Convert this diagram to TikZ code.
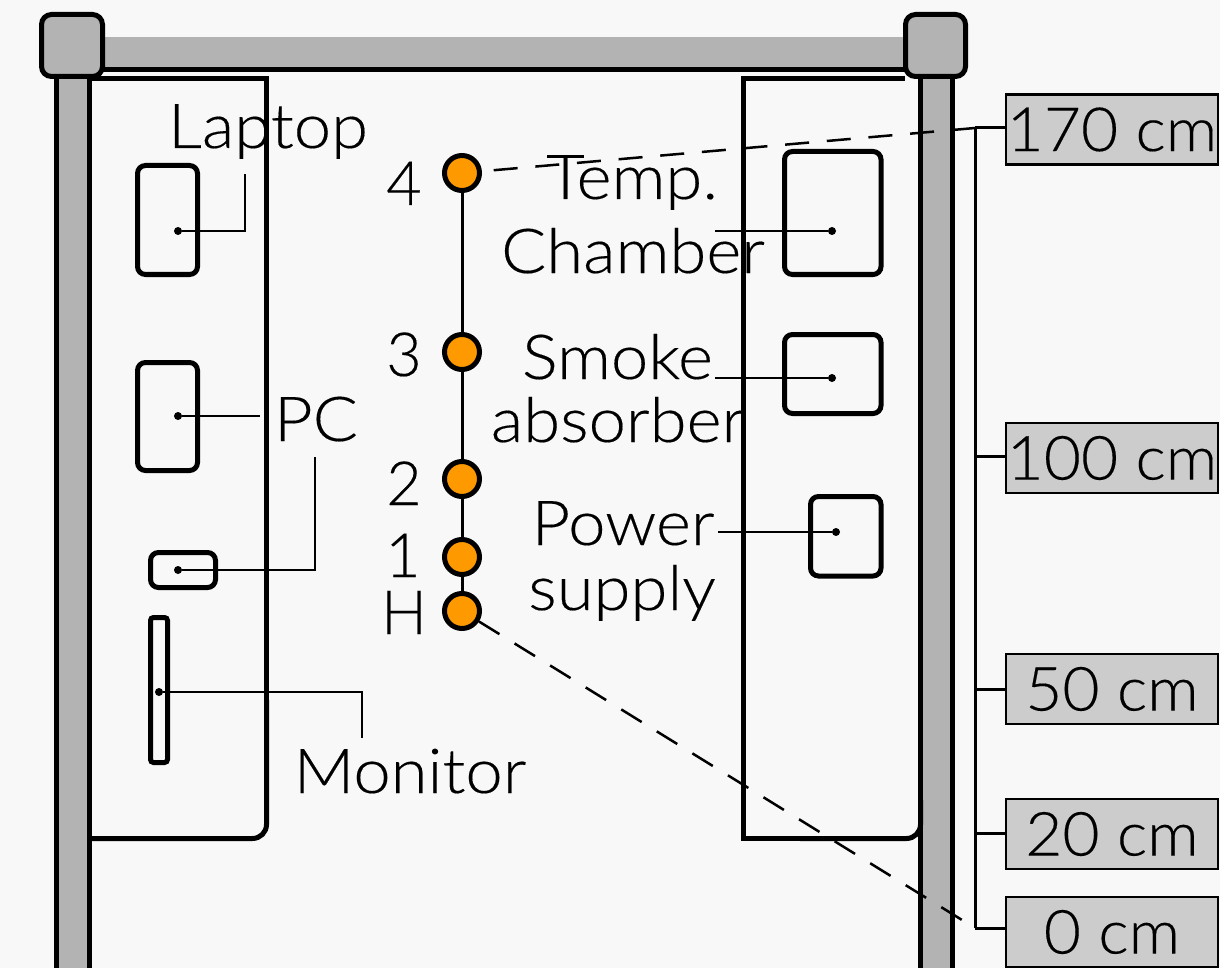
\documentclass[tikz,border=0pt]{standalone}
\usepackage{fontspec}
\setmainfont{Lato}[UprightFont=* Light,FakeBold=0.25]
\newfontfamily\widefont{Lato}[UprightFont=* Light,FakeStretch=1.05,FakeBold=0.25]
\newfontfamily\capfont{Lato}[UprightFont=* Light,FakeStretch=1.08,FakeBold=0.25]
\usetikzlibrary{calc}
\definecolor{pagegray}{HTML}{F8F8F8}
\definecolor{postgray}{HTML}{B3B3B3}
\definecolor{tagegray}{HTML}{CCCCCC}
\definecolor{sensororange}{HTML}{FF9900}
\newcommand{\bigtext}{\capfont\fontsize{62}{66}\selectfont}
\newcommand{\tagtext}{\widefont\fontsize{61}{66}\selectfont}
\newcommand{\digittext}{\fontsize{61}{66}\selectfont}
\tikzset{
	post/.style={fill=postgray,draw=none},
	postline/.style={line width=5pt},
	postcap/.style={fill=postgray,draw=black,line width=5pt,rounded corners=10pt},
	tableline/.style={line width=5pt},
	device/.style={draw=black,line width=5pt,rounded corners=8pt},
	devicedot/.style={circle,fill=black,inner sep=0pt,minimum size=8pt},
	lead/.style={line width=2.5pt},
	sensor/.style={circle,draw=black,fill=sensororange,line width=5pt,inner sep=0pt,minimum size=35pt},
	wire/.style={line width=3pt},
	sight/.style={line width=2.5pt,dash pattern=on 24pt off 17.8pt},
	heighttag/.style={draw=black,fill=tagegray,line width=2.5pt,minimum width=212pt,minimum height=70pt,inner sep=0pt,font=\tagtext},
	caption/.style={inner sep=0pt,anchor=base,font=\bigtext},
	digit/.style={inner sep=0pt,anchor=base,font=\digittext},
}

\begin{document}
\begin{tikzpicture}[x=1pt,y=-1pt]
			%%%%% START %%%%%
			\useasboundingbox[fill=pagegray] (0, 0) rectangle (1220, 968);
			
			% frame
			\fill[post] (104, 37) rectangle (905, 68);
			\draw[postline] (104, 69.5) -- (905, 69.5);
			
			\fill[post] (56, 79) rectangle (89, 968);
			\draw[postline] (56.5, 79) -- (56.5, 968);
			\draw[postline] (89, 79) -- (89, 968);
			
			\fill[post] (920, 79) rectangle (953, 968);
			\draw[postline] (920.5, 79) -- (920.5, 968);
			\draw[postline] (952.5, 79) -- (952.5, 968);
			
			\draw[postcap] (41.5, 14.5) rectangle (102.5, 76.5);
			\draw[postcap] (905.5, 14.5) rectangle (965.5, 76.5);
			
			% tables
			\draw[tableline] (90, 78.5) -- (266.5, 78.5) -- (266.5, 700);
			\draw[tableline,rounded corners=14pt] (266.5, 700) -- (266.5, 838.5) -- (90, 838.5);
			\draw[tableline] (905, 78.5) -- (743.5, 78.5) -- (743.5, 838.5) -- (800, 838.5);
			\draw[tableline,rounded corners=14pt] (800, 838.5) -- (920.5, 838.5) -- (920.5, 800);
			
			% devices, left
			\draw[device] (137.5, 165.5) rectangle (197.5, 274.5);
			\draw[device] (137.5, 362.5) rectangle (197.5, 470.5);
			\draw[device] (150.5, 552.5) rectangle (215.5, 587.5);
			\draw[device,rounded corners=3pt] (150.5, 617.5) rectangle (167.5, 762.5);
			
			% devices, right
			\draw[device] (784.5, 151.5) rectangle (881, 274.5);
			\draw[device] (784.5, 334.5) rectangle (881, 413.5);
			\draw[device] (810.5, 496.5) rectangle (881, 576);
			
			% device labels
			\node[caption] (laptop) at (268, 148) {Laptop};
			\node[caption] (pc) at (316, 441) {PC};
			\node[caption] (monitor) at (410, 793) {Monitor};
			\node[caption] (temp) at (632, 199) {Temp.};
			\node[caption] (chamber) at (633, 273) {Chamber};
			\node[caption] (smoke) at (617.5, 379) {Smoke};
			\node[caption] (absorber) at (618, 442) {absorber};
			\node[caption] (power) at (623, 545) {Power};
			\node[caption] (supply) at (622, 610) {supply};
			
			\node[devicedot] (laptopdot) at (178, 231) {};
			\node[devicedot] (pcdot) at (178, 416) {};
			\node[devicedot] (towerdot) at (178, 570) {};
			\node[devicedot] (monitordot) at (159, 692) {};
			\node[devicedot] (chamberdot) at (832, 231) {};
			\node[devicedot] (absorberdot) at (832, 378) {};
			\node[devicedot] (supplydot) at (836, 532) {};
			
			\coordinate (laptopend) at (245, 174);
			\coordinate (pcend) at (260, 416);
			\coordinate (towerend) at (315, 457);
			\coordinate (monitorend) at (362, 738);
			\coordinate (chamberend) at (715, 231);
			\coordinate (absorberend) at (715, 378);
			\coordinate (supplyend) at (718, 532);
			
			\draw[lead] (laptopdot) -| (laptopend);
			\draw[lead] (pcdot) -- (pcend);
			\draw[lead] (towerdot) -| (towerend);
			\draw[lead] (monitordot) -| (monitorend);
			\draw[lead] (chamberdot) -- (chamberend);
			\draw[lead] (absorberdot) -- (absorberend);
			\draw[lead] (supplydot) -- (supplyend);
			
			% sensors
			\node[sensor] (s4) at (462, 173) {};
			\node[sensor] (s3) at (462, 352) {};
			\node[sensor] (s2) at (462, 479) {};
			\node[sensor] (s1) at (462, 557) {};
			\node[sensor] (sH) at (462, 611) {};
			
			\draw[wire] (s4) -- (s3);
			\draw[wire] (s3) -- (s2);
			\draw[wire] (s2) -- (s1);
			\draw[wire] (s1) -- (sH);
			
			\node[digit] (l4) at (404, 205) {4};
			\node[digit] (l3) at (404, 376) {3};
			\node[digit] (l2) at (404, 505) {2};
			\node[digit] (l1) at (403, 577) {1};
			\node[digit] (lH) at (404, 634) {H};
			
			% height scale
			\node[heighttag] (t170) at (1112, 129.5) {170 cm};
			\node[heighttag] (t100) at (1112, 458) {100 cm};
			\node[heighttag] (t50) at (1112, 689) {50 cm};
			\node[heighttag] (t20) at (1112, 834) {20 cm};
			\node[heighttag] (t0) at (1112, 932) {0 cm};
			
			\coordinate (j170) at (975, 128);
			\coordinate (j100) at (975, 456);
			\coordinate (j50) at (975, 689);
			\coordinate (j20) at (975, 833);
			\coordinate (j0) at (975, 928);
			
			\draw[wire] (j170) -- (j0);
			\draw[wire] (j170) -- (j170 -| t170.west);
			\draw[wire] (j100) -- (j100 -| t100.west);
			\draw[wire] (j50) -- (j50 -| t50.west);
			\draw[wire] (j20) -- (j20 -| t20.west);
			\draw[wire] (j0) -- (j0 -| t0.west);
			
			\draw[sight,dash phase=30pt] (s4) -- (j170);
			\draw[sight] (sH) -- (j0);
			
			%%%%% END %%%%%
		\end{tikzpicture}
\end{document}
